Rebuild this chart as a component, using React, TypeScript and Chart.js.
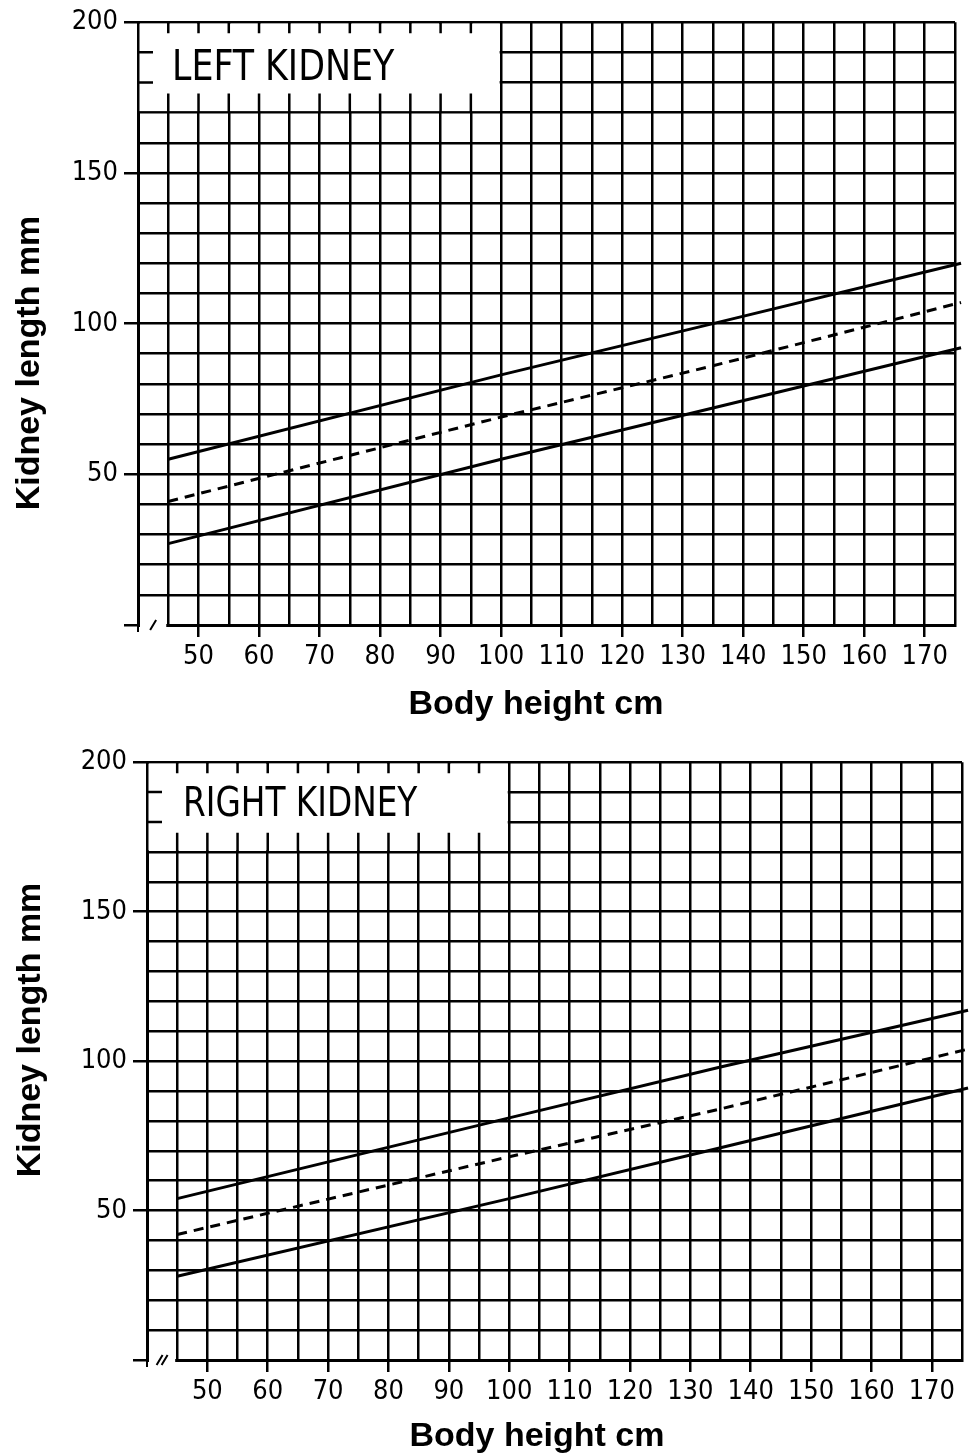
import React, { useEffect, useRef } from "react";
import { Chart, registerables } from "chart.js";

Chart.register(...registerables);

// ---- data ----
const heights = [45, 100, 135, 176];
const leftUpper = [55, 83, 100, 120];
const leftMedian = [41, 69, 86, 107];
const leftLower = [27, 55, 72, 92];
const rightUpper = [54, 81, 98, 117];
const rightMedian = [42, 68, 84, 104];
const rightLower = [28, 54, 71, 91];

const xTickLabels = [50, 60, 70, 80, 90, 100, 110, 120, 130, 140, 150, 160, 170];
const yTickLabels = [50, 100, 150, 200];
const yTickMarks = [0, 50, 100, 150, 200];
const panelTitles = ["LEFT KIDNEY", "RIGHT KIDNEY"];
const xAxisTitle = "Body height cm";
const yAxisTitle = "Kidney length mm";

const X_MIN = 40;
const X_MAX = 175;
const Y_MIN = 0;
const Y_MAX = 200;
const BOX_X = [40, 100];
const BOX_Y = [170, 200];

const NARROW = "'Liberation Sans Narrow', 'DejaVu Sans Condensed', sans-serif";
const BOLD = "'Liberation Sans', Arial, sans-serif";

type Panel = {
  title: string;
  upper: number[];
  median: number[];
  lower: number[];
  top: number;
  height: number;
  areaLeft: number;
  areaRight: number;
  areaTop: number;
  areaBottom: number;
  titleFont: number;
  titleSqueeze: number;
  titleDx: number;
  titleBase: number;
  xTitleX: number;
  xTitleY: number;
  yTitleX: number;
  yTitleY: number;
  slashes: number;
};

const panels: Panel[] = [
  {
    title: panelTitles[0],
    upper: leftUpper,
    median: leftMedian,
    lower: leftLower,
    top: 0,
    height: 735,
    areaLeft: 138,
    areaRight: 955,
    areaTop: 22,
    areaBottom: 625,
    titleFont: 43,
    titleSqueeze: 0.9,
    titleDx: 34,
    titleBase: 58,
    xTitleX: 536,
    xTitleY: 705,
    yTitleX: 30,
    yTitleY: 363,
    slashes: 1,
  },
  {
    title: panelTitles[1],
    upper: rightUpper,
    median: rightMedian,
    lower: rightLower,
    top: 740,
    height: 716,
    areaLeft: 147,
    areaRight: 962,
    areaTop: 22,
    areaBottom: 620,
    titleFont: 40,
    titleSqueeze: 0.91,
    titleDx: 36,
    titleBase: 54,
    xTitleX: 537,
    xTitleY: 697,
    yTitleX: 31,
    yTitleY: 290,
    slashes: 2,
  },
];

function makeOverlay(p: Panel) {
  return {
    id: "overlay",
    beforeDatasetsDraw(chart: any) {
      const { ctx, scales } = chart;
      const xs = scales.x;
      const ys = scales.y;
      const x0 = xs.getPixelForValue(BOX_X[0]);
      const x1 = xs.getPixelForValue(BOX_X[1]);
      const y0 = ys.getPixelForValue(BOX_Y[1]);
      const y1 = ys.getPixelForValue(BOX_Y[0]);
      ctx.save();
      // white label box
      ctx.fillStyle = "#fff";
      ctx.fillRect(x0 + 1.5, y0 + 1.5, x1 - x0 - 3, y1 - y0 - 3);
      ctx.strokeStyle = "#000";
      ctx.lineWidth = 2.5;
      ctx.beginPath();
      xs.ticks.forEach((t: any) => {
        if (t.value > BOX_X[0] && t.value < BOX_X[1]) {
          const px = xs.getPixelForValue(t.value);
          ctx.moveTo(px, y0);
          ctx.lineTo(px, y0 + 11);
          ctx.moveTo(px, y1);
          ctx.lineTo(px, y1 - 19);
        }
      });
      ys.ticks.forEach((t: any) => {
        if (t.value > BOX_Y[0] && t.value < BOX_Y[1]) {
          const py = ys.getPixelForValue(t.value);
          ctx.moveTo(x0, py);
          ctx.lineTo(x0 + 15, py);
        }
      });
      ctx.stroke();
      // title
      ctx.save();
      ctx.fillStyle = "#000";
      ctx.font = `${p.titleFont}px ${NARROW}`;
      ctx.textAlign = "left";
      ctx.textBaseline = "alphabetic";
      ctx.translate(x0 + p.titleDx, y0 + p.titleBase);
      ctx.scale(p.titleSqueeze, 1);
      ctx.fillText(p.title, 0, 0);
      ctx.restore();

      // axis break at lower left
      const yb = ys.getPixelForValue(Y_MIN);
      const x45 = xs.getPixelForValue(45);
      ctx.fillStyle = "#fff";
      ctx.fillRect(x0 + 2, yb - 2.5, x45 - x0 - 4, 5);
      ctx.strokeStyle = "#000";
      ctx.lineWidth = 2;
      ctx.beginPath();
      const cx = (x0 + x45) / 2;
      for (let i = 0; i < p.slashes; i++) {
        const ox = cx + (i - (p.slashes - 1) / 2) * 5;
        ctx.moveTo(ox - 3, yb + 5);
        ctx.lineTo(ox + 3, yb - 5);
      }
      ctx.moveTo(x0, yb);
      ctx.lineTo(x0, yb + 7);
      ctx.stroke();
      ctx.restore();
    },
    afterDraw(chart: any) {
      const { ctx } = chart;
      ctx.save();
      ctx.fillStyle = "#000";
      ctx.font = `bold 34px ${BOLD}`;
      ctx.textAlign = "center";
      ctx.textBaseline = "middle";
      ctx.fillText(xAxisTitle, p.xTitleX, p.xTitleY);
      ctx.translate(p.yTitleX, p.yTitleY);
      ctx.rotate(-Math.PI / 2);
      ctx.fillText(yAxisTitle, 0, 0);
      ctx.restore();
    },
  };
}

function line(vals: number[], dash: number[]) {
  return {
    data: heights.map((h, i) => ({ x: h, y: vals[i] })),
    borderColor: "#000",
    borderWidth: 3,
    borderDash: dash,
    pointRadius: 0,
    fill: false,
    tension: 0,
    clip: false as any,
  };
}

function KidneyChart({ p }: { p: Panel }) {
  const ref = useRef<HTMLCanvasElement | null>(null);
  useEffect(() => {
    if (!ref.current) return;
    const chart = new Chart(ref.current, {
      type: "line",
      data: {
        datasets: [line(p.upper, []), line(p.median, [10, 7]), line(p.lower, [])],
      },
      options: {
        responsive: false,
        animation: false,
        layout: { padding: { top: p.areaTop, right: 969 - p.areaRight, bottom: 0, left: 0 } },
        plugins: { legend: { display: false }, tooltip: { enabled: false } },
        scales: {
          x: {
            type: "linear",
            min: X_MIN,
            max: X_MAX,
            afterFit: (s: any) => {
              s.height = p.height - p.areaBottom;
            },
            ticks: {
              stepSize: 5,
              autoSkip: false,
              maxRotation: 0,
              maxTicksLimit: 100,
              padding: 4,
              color: "#000",
              font: { family: NARROW, size: 27 },
              callback: (v: any) => (xTickLabels.includes(Number(v)) ? String(v) : ""),
            },
            grid: {
              color: "#000",
              lineWidth: 2.5,
              tickLength: 12,
              tickWidth: 2.5,
              tickColor: (c: any) =>
                c.tick && xTickLabels.includes(c.tick.value) ? "#000" : "rgba(0,0,0,0)",
            },
            border: { color: "#000", width: 3 },
          },
          y: {
            type: "linear",
            min: Y_MIN,
            max: Y_MAX,
            afterFit: (s: any) => {
              s.width = p.areaLeft;
            },
            ticks: {
              stepSize: 10,
              autoSkip: false,
              maxTicksLimit: 100,
              padding: 6,
              color: "#000",
              font: { family: NARROW, size: 27 },
              callback: (v: any) => (yTickLabels.includes(Number(v)) ? String(v) : ""),
            },
            grid: {
              color: "#000",
              lineWidth: 2.5,
              tickLength: 14,
              tickWidth: 2.5,
              tickColor: (c: any) =>
                c.tick && yTickMarks.includes(c.tick.value) ? "#000" : "rgba(0,0,0,0)",
            },
            border: { color: "#000", width: 3 },
          },
        },
      } as any,
      plugins: [makeOverlay(p)],
    });
    return () => chart.destroy();
  }, [p]);
  return (
    <canvas
      ref={ref}
      width={969}
      height={p.height}
      style={{ position: "absolute", left: 0, top: p.top, width: 969, height: p.height }}
    />
  );
}

export default function App() {
  return (
    <div style={{ position: "absolute", left: 0, top: 0, width: 969, height: 1456, background: "#fff" }}>
      {panels.map((p) => (
        <KidneyChart key={p.title} p={p} />
      ))}
    </div>
  );
}
